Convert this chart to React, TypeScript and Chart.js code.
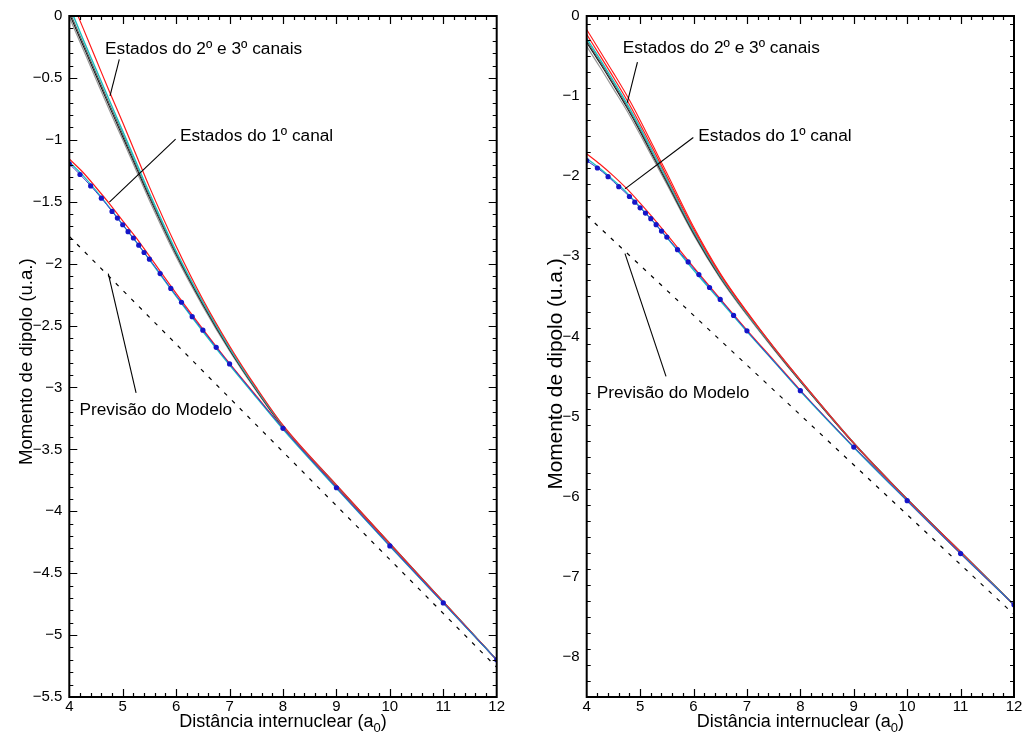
import React, { useEffect, useRef } from "react";
import { Chart, registerables } from "chart.js";
Chart.register(...registerables);

// ---------- DATA ----------
const X_GRID = [4, 4.25, 4.5, 4.75, 5, 5.25, 5.5, 6, 6.5, 7, 7.5, 8, 9, 10, 11, 12];
const X_DOTS = [4.0, 4.2, 4.4, 4.6, 4.8, 4.9, 5.0, 5.1, 5.2, 5.3, 5.4, 5.5, 5.7, 5.9, 6.1, 6.3, 6.5, 6.75, 7.0, 8, 9, 10, 11, 12];
const X_MODEL = [4, 12];

// Left panel
const L_UP_RED = [0.17, -0.09, -0.35, -0.61, -0.86, -1.12, -1.38, -1.86, -2.29, -2.665, -3.0, -3.305, -3.787, -4.26, -4.73, -5.2];
const L_UP_CYAN = [0.08, -0.18, -0.43, -0.68, -0.93, -1.18, -1.43, -1.9, -2.31, -2.68, -3.01, -3.31, -3.79, -4.26, -4.73, -5.2];
const L_UP_DGRAY = [0.04, -0.21, -0.46, -0.71, -0.955, -1.205, -1.45, -1.915, -2.32, -2.688, -3.016, -3.314, -3.792, -4.262, -4.732, -5.2];
const L_UP_BLACK = [0.02, -0.23, -0.48, -0.73, -0.975, -1.22, -1.465, -1.925, -2.33, -2.695, -3.02, -3.318, -3.795, -4.264, -4.734, -5.2];
const L_UP_GRAY = [-0.01, -0.26, -0.51, -0.76, -1.0, -1.245, -1.49, -1.945, -2.345, -2.705, -3.028, -3.322, -3.798, -4.266, -4.735, -5.2];
const L_DOTS = [-1.195, -1.28, -1.372, -1.471, -1.578, -1.632, -1.686, -1.742, -1.793, -1.851, -1.91, -1.964, -2.08, -2.2, -2.312, -2.428, -2.537, -2.676, -2.81, -3.33, -3.81, -4.28, -4.74, -5.2];
const L_LO_RED = [-1.155, -1.26, -1.385, -1.515, -1.655, -1.79, -1.94, -2.24, -2.528, -2.806, -3.068, -3.328, -3.808, -4.278, -4.74, -5.2];
const L_LO_CYAN = [-1.178, -1.285, -1.41, -1.545, -1.685, -1.825, -1.97, -2.265, -2.548, -2.82, -3.08, -3.338, -3.815, -4.283, -4.742, -5.2];
const L_MODEL = [-1.78, -5.26];

// Right panel
const R_UP_RED1 = [-0.17, -0.44, -0.71, -0.99, -1.3, -1.63, -1.96, -2.63, -3.21, -3.69, -4.13, -4.54, -5.325, -6.03, -6.69, -7.35];
const R_UP_RED2 = [-0.23, -0.495, -0.765, -1.045, -1.35, -1.67, -2.0, -2.655, -3.225, -3.7, -4.135, -4.545, -5.33, -6.03, -6.69, -7.35];
const R_UP_CYAN = [-0.28, -0.54, -0.81, -1.09, -1.39, -1.71, -2.03, -2.68, -3.24, -3.71, -4.14, -4.55, -5.33, -6.03, -6.69, -7.35];
const R_UP_DGRAY = [-0.31, -0.57, -0.84, -1.12, -1.42, -1.74, -2.06, -2.7, -3.255, -3.72, -4.145, -4.555, -5.335, -6.03, -6.69, -7.35];
const R_UP_BLACK = [-0.33, -0.59, -0.86, -1.14, -1.44, -1.76, -2.075, -2.71, -3.26, -3.72, -4.15, -4.56, -5.335, -6.03, -6.69, -7.35];
const R_UP_GRAY = [-0.38, -0.64, -0.91, -1.18, -1.48, -1.79, -2.1, -2.73, -3.275, -3.735, -4.16, -4.565, -5.34, -6.035, -6.69, -7.35];
const R_DOTS = [-1.806, -1.897, -2.005, -2.13, -2.253, -2.324, -2.394, -2.46, -2.53, -2.605, -2.685, -2.76, -2.917, -3.07, -3.227, -3.389, -3.538, -3.737, -3.93, -4.676, -5.38, -6.05, -6.71, -7.35];
const R_LO_RED = [-1.72, -1.85, -1.995, -2.155, -2.335, -2.525, -2.725, -3.135, -3.53, -3.92, -4.295, -4.672, -5.378, -6.05, -6.71, -7.35];
const R_LO_CYAN = [-1.777, -1.905, -2.05, -2.205, -2.385, -2.57, -2.765, -3.17, -3.555, -3.94, -4.31, -4.684, -5.385, -6.052, -6.71, -7.35];
const R_MODEL = [-2.49, -7.47];

// Text labels
const LBL_23 = "Estados do 2º e 3º canais";
const LBL_1 = "Estados do 1º canal";
const LBL_MODEL = "Previsão do Modelo";
const X_TITLE = "Distância internuclear (a";
const X_TITLE_SUB = "0";
const Y_TITLE = "Momento de dipolo (u.a.)";

// Annotation anchors (data coordinates)
const L_NOTES = [
  { text: LBL_23, x: 4.67, y: -0.303, line: [4.936, -0.351, 4.762, -0.645] },
  { text: LBL_1, x: 6.07, y: -1.007, line: [5.99, -0.994, 4.75, -1.503] },
  { text: LBL_MODEL, x: 4.19, y: -3.226, line: [4.73, -2.08, 5.25, -3.044] },
];
const R_NOTES = [
  { text: LBL_23, x: 4.674, y: -0.46, line: [4.95, -0.575, 4.76, -1.08] },
  { text: LBL_1, x: 6.09, y: -1.557, line: [5.996, -1.516, 4.717, -2.158] },
  { text: LBL_MODEL, x: 4.187, y: -4.768, line: [4.717, -2.966, 5.485, -4.499] },
];

const FONT = "'Liberation Sans', Arial, Helvetica, sans-serif";
const RED = "#ff1a1a";
const CYAN = "#1fbfbf";
const BLUE = "#1515c8";

function pts(xs: number[], ys: number[]) {
  return xs.map((x, i) => ({ x, y: ys[i] }));
}

function line(ys: number[], color: string, width = 1.2, xs = X_GRID, extra: any = {}) {
  return {
    data: pts(xs, ys),
    borderColor: color,
    backgroundColor: color,
    borderWidth: width,
    pointRadius: 0,
    cubicInterpolationMode: "monotone",
    fill: false,
    ...extra,
  };
}

function buildDatasets(up: number[][], dots: number[], loRed: number[], loCyan: number[], model: number[]) {
  return [
    line(dots, BLUE, 1, X_DOTS, { pointRadius: 2.6, pointBackgroundColor: BLUE, pointBorderWidth: 0, borderColor: "#3a3ad0" }),
    line(loCyan, CYAN, 1.3),
    line(loRed, RED, 1.2),
    line(up[0], RED, 1.2),
    line(up[1], CYAN, 1.4),
    line(up[2], "#555555", 1.1),
    line(up[3], "#111111", 1.1),
    line(up[4], "#999999", 1.2),
    ...(up[5] ? [line(up[5], RED, 1.1)] : []),
    line(model, "#000000", 1.2, X_MODEL, { borderDash: [4, 7], cubicInterpolationMode: "default", tension: 0 }),
  ];
}

type Panel = {
  datasets: any[];
  yMin: number;
  yMajor: number;
  yMinor: number;
  yAxisWidth: number;
  rightPad: number;
  yTitleX: number;
  yTitleY: number;
  yTitleSize: number;
  notes: any[];
};

function fmt(v: number) {
  const s = String(Math.round(v * 1000) / 1000);
  return s.replace("-", "\u2212");
}

function makeChart(canvas: HTMLCanvasElement, p: Panel) {
  const plugin = {
    id: "decor",
    afterDraw(chart: any) {
      const { ctx, chartArea: a, scales } = chart;
      const xs = scales.x;
      const ys = scales.y;
      ctx.save();
      // ticks
      ctx.strokeStyle = "#000";
      ctx.lineWidth = 1.2;
      const drawAxisTicks = (min: number, max: number, major: number, minor: number, isX: boolean) => {
        const n = Math.round((max - min) / minor);
        for (let i = 1; i < n; i++) {
          const v = min + i * minor;
          const r = v / major;
          const isMajor = Math.abs(r - Math.round(r)) < 1e-6;
          const len = isMajor ? 8 : 4;
          ctx.beginPath();
          if (isX) {
            const px = Math.round(xs.getPixelForValue(v)) + 0.5;
            ctx.moveTo(px, a.bottom);
            ctx.lineTo(px, a.bottom - len);
            ctx.moveTo(px, a.top);
            ctx.lineTo(px, a.top + len);
          } else {
            const py = Math.round(ys.getPixelForValue(v)) + 0.5;
            ctx.moveTo(a.left, py);
            ctx.lineTo(a.left + len, py);
            ctx.moveTo(a.right, py);
            ctx.lineTo(a.right - len, py);
          }
          ctx.stroke();
        }
      };
      drawAxisTicks(4, 12, 1, 0.2, true);
      drawAxisTicks(p.yMin, 0, p.yMajor, p.yMinor, false);
      // frame
      ctx.lineWidth = 2;
      ctx.strokeRect(a.left, a.top, a.right - a.left, a.bottom - a.top);

      // annotations
      ctx.fillStyle = "#000";
      ctx.lineWidth = 1.1;
      ctx.font = `17.3px ${FONT}`;
      ctx.textBaseline = "alphabetic";
      ctx.textAlign = "left";
      for (const n of p.notes) {
        ctx.fillText(n.text, xs.getPixelForValue(n.x), ys.getPixelForValue(n.y));
        ctx.beginPath();
        ctx.moveTo(xs.getPixelForValue(n.line[0]), ys.getPixelForValue(n.line[1]));
        ctx.lineTo(xs.getPixelForValue(n.line[2]), ys.getPixelForValue(n.line[3]));
        ctx.stroke();
      }

      // x title with subscript
      const cx = (a.left + a.right) / 2;
      const base = 727.3;
      ctx.font = `18px ${FONT}`;
      const w1 = ctx.measureText(X_TITLE).width;
      ctx.font = `13px ${FONT}`;
      const w2 = ctx.measureText(X_TITLE_SUB).width;
      ctx.font = `18px ${FONT}`;
      const w3 = ctx.measureText(")").width;
      let sx = cx - (w1 + w2 + w3) / 2;
      ctx.fillText(X_TITLE, sx, base);
      sx += w1;
      ctx.font = `13px ${FONT}`;
      ctx.fillText(X_TITLE_SUB, sx, base + 5);
      sx += w2;
      ctx.font = `18px ${FONT}`;
      ctx.fillText(")", sx, base);

      // y title
      ctx.save();
      ctx.translate(p.yTitleX, p.yTitleY);
      ctx.rotate(-Math.PI / 2);
      ctx.font = `${p.yTitleSize}px ${FONT}`;
      ctx.textAlign = "center";
      ctx.fillText(Y_TITLE, 0, 0);
      ctx.restore();

      ctx.restore();
    },
  };

  return new Chart(canvas, {
    type: "line",
    data: { datasets: p.datasets },
    plugins: [plugin],
    options: {
      animation: false,
      responsive: false,
      devicePixelRatio: 1,
      events: [],
      layout: { padding: { top: 13, right: p.rightPad, left: 0, bottom: 0 } },
      plugins: { legend: { display: false }, tooltip: { enabled: false } },
      scales: {
        x: {
          type: "linear",
          min: 4,
          max: 12,
          afterFit: (s: any) => {
            s.height = 40;
          },
          grid: { display: true, drawOnChartArea: false, drawTicks: false },
          border: { display: false },
          ticks: {
            stepSize: 1,
            padding: 1,
            color: "#000",
            font: { family: FONT, size: 15 },
            maxRotation: 0,
            callback: (v: any) => fmt(Number(v)),
          },
        },
        y: {
          type: "linear",
          min: p.yMin,
          max: 0,
          afterFit: (s: any) => {
            s.width = p.yAxisWidth;
          },
          grid: { display: true, drawOnChartArea: false, drawTicks: false },
          border: { display: false },
          ticks: {
            stepSize: p.yMajor,
            padding: 7,
            color: "#000",
            font: { family: FONT, size: 15 },
            callback: (v: any) => {
              const r = Number(v) / p.yMajor;
              if (Math.abs(r - Math.round(r)) > 1e-6) return "";
              return fmt(Number(v));
            },
          },
        },
      },
    } as any,
  });
}

export default function App() {
  const leftRef = useRef<HTMLCanvasElement>(null);
  const rightRef = useRef<HTMLCanvasElement>(null);

  useEffect(() => {
    const left = makeChart(leftRef.current!, {
      datasets: buildDatasets([L_UP_RED, L_UP_CYAN, L_UP_DGRAY, L_UP_BLACK, L_UP_GRAY], L_DOTS, L_LO_RED, L_LO_CYAN, L_MODEL),
      yMin: -5.5,
      yMajor: 0.5,
      yMinor: 0.1,
      yAxisWidth: 69.3,
      rightPad: 15.3,
      yTitleX: 31.5,
      yTitleY: 361.7,
      yTitleSize: 18.6,
      notes: L_NOTES,
    });
    const right = makeChart(rightRef.current!, {
      datasets: buildDatasets([R_UP_RED2, R_UP_CYAN, R_UP_DGRAY, R_UP_BLACK, R_UP_GRAY, R_UP_RED1], R_DOTS, R_LO_RED, R_LO_CYAN, R_MODEL),
      yMin: -8.5,
      yMajor: 1,
      yMinor: 0.2,
      yAxisWidth: 74.7,
      rightPad: 11,
      yTitleX: 49.5,
      yTitleY: 374,
      yTitleSize: 20.8,
      notes: R_NOTES,
    });
    return () => {
      left.destroy();
      right.destroy();
    };
  }, []);

  return (
    <div style={{ position: "absolute", left: 0, top: 0, width: 1025, height: 737, background: "#fff" }}>
      <canvas ref={leftRef} width={512} height={737} style={{ position: "absolute", left: 0, top: 0 }} />
      <canvas ref={rightRef} width={513} height={737} style={{ position: "absolute", left: 512, top: 0 }} />
    </div>
  );
}
